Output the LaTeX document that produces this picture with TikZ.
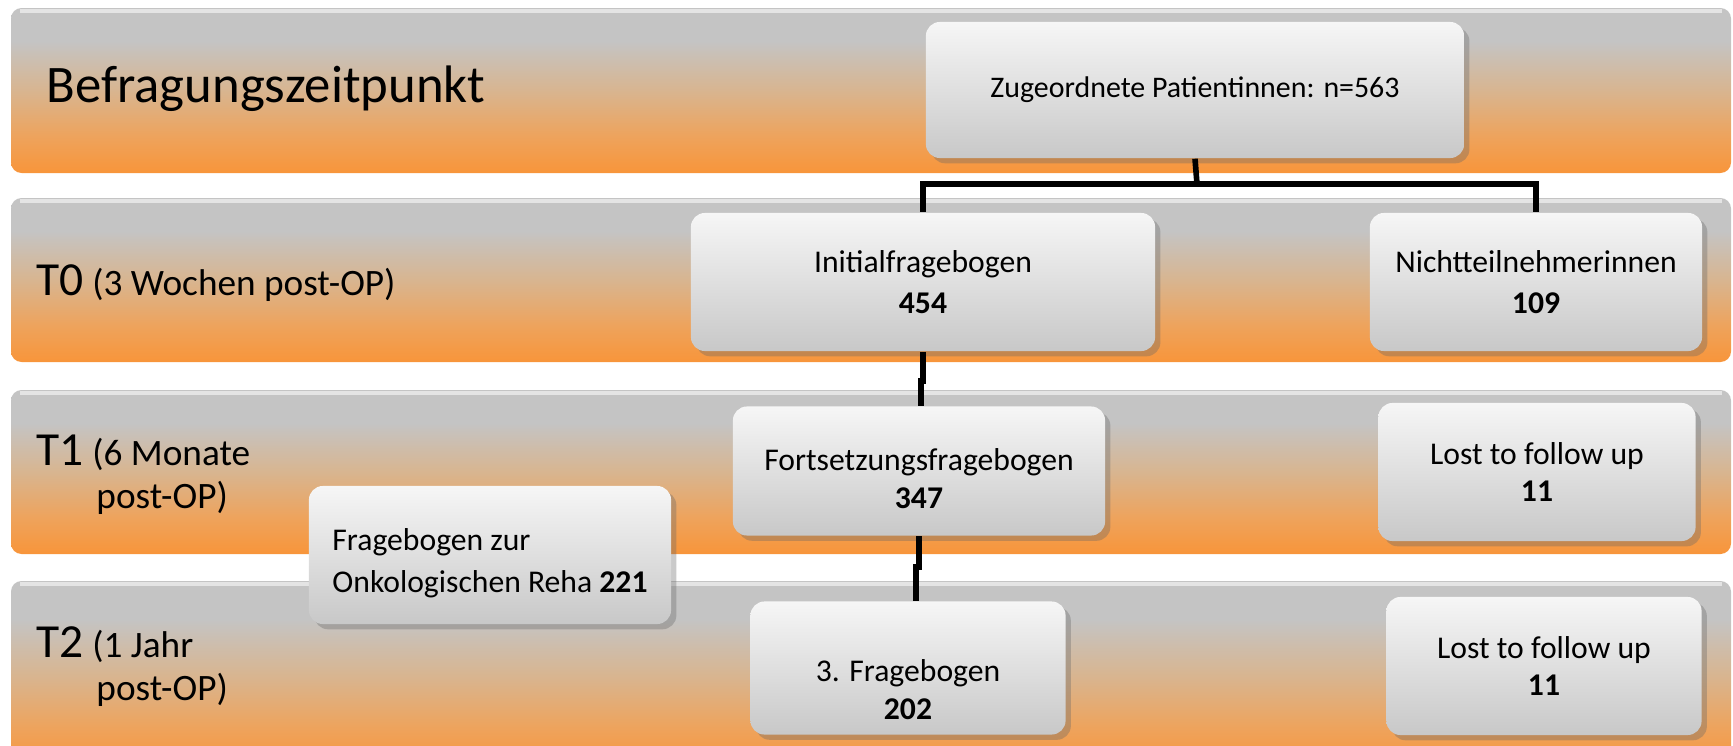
\documentclass[tikz,border=0pt]{standalone}
\usepackage{fontspec}
\setmainfont{Carlito}
\usetikzlibrary{positioning,calc,shadows}
\definecolor{ink}{HTML}{000000}
\definecolor{bandtop}{HTML}{C4C4C4}
\definecolor{bandmid}{HTML}{D8B590}
\definecolor{bandlow}{HTML}{EEA35C}
\definecolor{bandbot}{HTML}{F8953A}
\definecolor{boxtop}{HTML}{F6F6F6}
\definecolor{boxbot}{HTML}{C8C8C8}
\pgfdeclareverticalshading{bandshade}{100bp}{color(0bp)=(bandbot);
  color(25bp)=(bandbot); color(36bp)=(bandlow); color(50bp)=(bandmid);
  color(65bp)=(bandtop); color(100bp)=(bandtop)}
\newcommand{\tnum}{\fontsize{13.5}{15}\selectfont}

\begin{document}
\begin{tikzpicture}[x=0.01cm, y=-0.01cm,
  band/.style={rounded corners=3pt, shading=bandshade},
  shine/.style={white, opacity=0.55, line width=1.2pt},
  box/.style={rounded corners=4pt, top color=boxtop, bottom color=boxbot,
              align=center, inner sep=0pt, text=ink,
              font=\fontsize{9}{10.8}\selectfont,
              drop shadow={shadow xshift=1.5pt, shadow yshift=-1.5pt,
                           opacity=0.35, fill=black!60}},
  phase/.style={anchor=base west, inner sep=0pt, align=left, text=ink,
                font=\fontsize{10.6}{12.2}\selectfont},
  link/.style={line width=1.6pt, ink}
]
\useasboundingbox (0,0) rectangle (1733,745);
\clip (0,0) rectangle (1733,745);

\shade[band] (11,8) rectangle (1731,173);
\shade[band] (11,198) rectangle (1731,362);
\shade[band] (11,390) rectangle (1731,554);
\shade[band] (11,581) rectangle (1731,770);
\foreach \y in {11,201,393,584}
  \draw[shine] (20,\y) -- (1722,\y);

\node[anchor=base west, inner sep=0pt, text=ink,
      font=\fontsize{15}{18}\selectfont] (title) at (46,102) {Befragungszeitpunkt};
\node[phase] (t0) at (36,295) {{\tnum T0} (3 Wochen post-OP)};
\node[phase] (t1) at (36,508) {{\tnum T1} (6 Monate\\\hspace*{17pt}post-OP)};
\node[phase] (t2) at (36,700) {{\tnum T2} (1 Jahr\\\hspace*{17pt}post-OP)};

\node[box, minimum width=5.38cm, minimum height=1.36cm,
      font=\fontsize{8.5}{10.2}\selectfont] (zug) at (1195,90)
  {Zugeordnete Patientinnen: n=563};
\node[box, minimum width=4.64cm, minimum height=1.38cm] (init) at (923,282)
  {Initialfragebogen\\[1pt]\textbf{454}};
\node[box, minimum width=3.32cm, minimum height=1.38cm] (nicht) at (1536,282)
  {Nichtteilnehmerinnen\\[1pt]\textbf{109}};
\node[box, minimum width=3.72cm, minimum height=1.29cm] (fort) at (919,471)
  {\rule{0pt}{10.5pt}Fortsetzungsfragebogen\\\textbf{347}};
\node[box, minimum width=3.17cm, minimum height=1.38cm] (lost1) at (1537,472)
  {Lost to follow up\\\textbf{11}};
\node[box, minimum width=3.62cm, minimum height=1.38cm, align=left] (reha) at (490,555)
  {\rule{0pt}{10.8pt}Fragebogen zur\\[1pt]Onkologischen Reha \textbf{221}};
\node[box, minimum width=3.15cm, minimum height=1.33cm] (drei) at (908,668)
  {\mbox{}\\[8pt]3. Fragebogen\\\textbf{202}};
\node[box, minimum width=3.15cm, minimum height=1.38cm] (lost2) at (1544,666)
  {Lost to follow up\\\textbf{11}};

\coordinate (fork) at (1197,184);
\draw[link] (zug.south) -- (fork);
\draw[link] (fork) -| (init.north);
\draw[link] (fork) -| (nicht.north);
\draw[link] (init.south) -- ++(0,29) -| ($(fort.north)+(2,0)$);
\draw[link] (fort.south) -- ++(0,31) -| ($(drei.north)+(8,0)$);
\end{tikzpicture}
\end{document}
